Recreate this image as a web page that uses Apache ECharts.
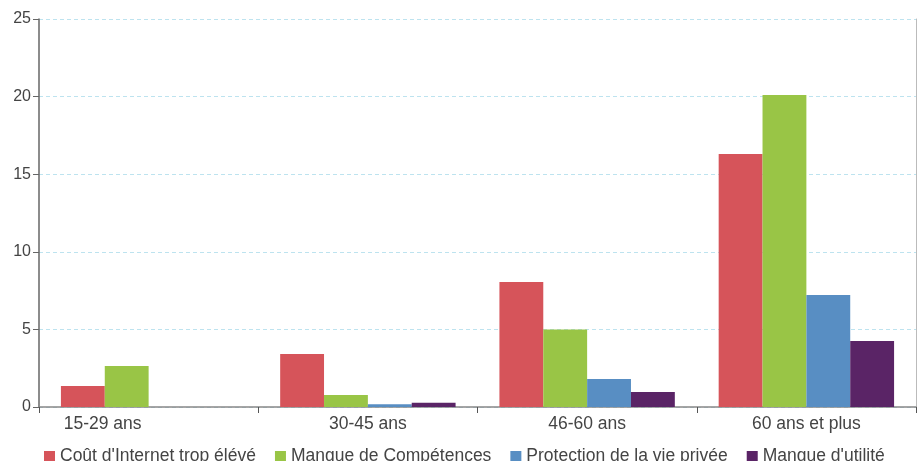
<!DOCTYPE html>
<html><head><meta charset="utf-8">
<script src="https://cdn.jsdelivr.net/npm/echarts@6/dist/echarts.min.js"></script>
<style>html,body{margin:0;padding:0;background:#fff}#c{width:919px;height:461px}</style>
</head><body><div id="c"></div>
<script>
const categories = ['15-29 ans', '30-45 ans', '46-60 ans', '60 ans et plus'];
const seriesNames = ["Coût d'Internet trop élévé", 'Manque de Compétences', 'Protection de la vie privée', "Manque d'utilité"];
const cout = [1.35, 3.41, 8.05, 16.3];
const competences = [2.64, 0.77, 5.0, 20.1];
const vieprivee = [0, 0.17, 1.8, 7.22];
const utilite = [0, 0.27, 0.97, 4.25];
const yTicks = [0, 5, 10, 15, 20, 25];
const colors = ['#d6545a', '#99c546', '#588ec3', '#5a2466'];

const values = [cout, competences, vieprivee, utilite];
const chart = echarts.init(document.getElementById('c'), null, {renderer: 'canvas'});
const font = 'Liberation Sans, Arial, sans-serif';
chart.setOption({
  animation: false,
  color: colors,
  grid: {left: 39, right: 3, top: 19, bottom: 54, containLabel: false},
  legend: {
    data: seriesNames, left: 39, top: 442, itemWidth: 11, itemHeight: 10, itemGap: 19,
    icon: 'rect', textStyle: {fontFamily: font, fontSize: 17.5, color: '#444'}
  },
  xAxis: {
    type: 'category',
    data: categories.map((c, i) => i === 0 ? {value: c, textStyle: {padding: [0, 92, 0, 0]}} : c),
    axisLine: {lineStyle: {color: '#888', width: 1.5}},
    axisTick: {show: true, length: 6, lineStyle: {color: '#555'}},
    axisLabel: {fontFamily: font, fontSize: 17.5, color: '#444', margin: 8}
  },
  yAxis: [{
    type: 'value', min: 0, max: 25, interval: 5,
    axisLine: {show: true, lineStyle: {color: '#666', width: 1.5}},
    axisTick: {show: true, length: 6, lineStyle: {color: '#666'}},
    axisLabel: {fontFamily: font, fontSize: 16, color: '#444', margin: 8,
      formatter: v => yTicks.includes(v) ? String(v) : ''},
    splitLine: {show: true, lineStyle: {color: '#bde3ef', type: [4, 3], width: 1}}
  }, {
    type: 'value', min: 0, max: 25, interval: 5, position: 'right',
    axisLine: {show: true, lineStyle: {color: '#bbb', width: 1}},
    axisTick: {show: false}, axisLabel: {show: false}, splitLine: {show: false}
  }],
  series: seriesNames.map((n, i) => ({
    name: n, type: 'bar', data: values[i], barGap: '0%', barCategoryGap: '20%', yAxisIndex: 0
  }))
});
</script></body></html>
